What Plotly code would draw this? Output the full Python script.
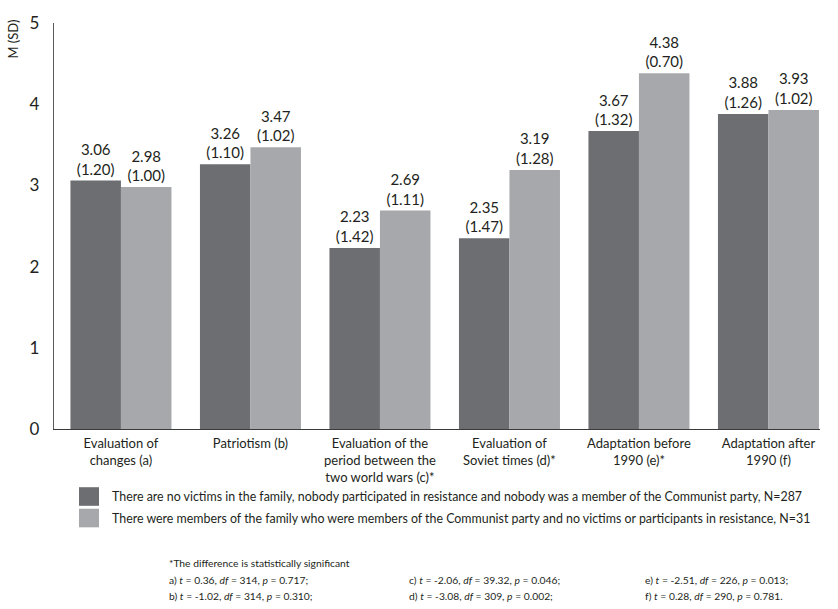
import plotly.graph_objects as go

categories = [
    "Evaluation of<br>changes (a)",
    "Patriotism (b)",
    "Evaluation of the<br>period between the<br>two world wars (c)*",
    "Evaluation of<br>Soviet times (d)*",
    "Adaptation before<br>1990 (e)*",
    "Adaptation after<br>1990 (f)",
]
no_victims_mean = [3.06, 3.26, 2.23, 2.35, 3.67, 3.88]
no_victims_sd = [1.20, 1.10, 1.42, 1.47, 1.32, 1.26]
party_mean = [2.98, 3.47, 2.69, 3.19, 4.38, 3.93]
party_sd = [1.00, 1.02, 1.11, 1.28, 0.70, 1.02]
y_ticks = [0, 1, 2, 3, 4, 5]

legend_labels = [
    "There are no victims in the family, nobody participated in resistance and nobody was a member of the Communist party, N=287",
    "There were members of the family who were members of the Communist party and no victims or participants in resistance, N=31",
]
footnote_title = "*The difference is statistically significant"
footnotes = [
    "a) <i>t</i> = 0.36, <i>df</i> = 314, <i>p</i> = 0.717;",
    "b) <i>t</i> = -1.02, <i>df</i> = 314, <i>p</i> = 0.310;",
    "c) <i>t</i> = -2.06, <i>df</i> = 39.32, <i>p</i> = 0.046;",
    "d) <i>t</i> = -3.08, <i>df</i> = 309, <i>p</i> = 0.002;",
    "e) <i>t</i> = -2.51, <i>df</i> = 226, <i>p</i> = 0.013;",
    "f) <i>t</i> = 0.28, <i>df</i> = 290, <i>p</i> = 0.781.",
]

DARK = "#6d6e72"
LIGHT = "#a7a8ab"
TEXT = "#231f20"
FONT = "Lato, Liberation Sans, sans-serif"

W, H = 838, 609
L, R, T, B = 54, 18, 14, 180
PW, PH = W - L - R, H - T - B


def px_x(x):
    return (x - L) / PW


def px_y(y):
    return (H - B - y) / PH


def labels(means, sds):
    return [f"{m:.2f}<br>({s:.2f})" for m, s in zip(means, sds)]


fig = go.Figure()
for name, means, sds, color in [
    (legend_labels[0], no_victims_mean, no_victims_sd, DARK),
    (legend_labels[1], party_mean, party_sd, LIGHT),
]:
    fig.add_trace(go.Bar(
        x=categories, y=means, name=name,
        marker=dict(color=color, line=dict(width=0)),
        text=labels(means, sds), textposition="outside",
        textfont=dict(family=FONT, size=15, color=TEXT),
        cliponaxis=False, showlegend=False,
    ))

fig.update_layout(
    width=W, height=H,
    margin=dict(l=L, r=R, t=T, b=B),
    paper_bgcolor="white", plot_bgcolor="white",
    barmode="group", bargap=0.22, bargroupgap=0,
    font=dict(family=FONT, color=TEXT),
    xaxis=dict(
        range=[-0.517, 5.398],
        showline=True, linecolor="#3a3a3a", linewidth=1.3,
        ticks="", tickfont=dict(family=FONT, size=13, color=TEXT),
        showgrid=False, ticklabelstandoff=2,
    ),
    yaxis=dict(
        range=[0, 5], tickvals=y_ticks, showgrid=False, zeroline=False,
        showline=True, linecolor="#5a5a5a", linewidth=1.3,
        ticks="", ticklabelstandoff=10,
        tickfont=dict(family=FONT, size=17, color=TEXT),
    ),
)

annotations = [
    dict(text="M (SD)", textangle=-90, xref="paper", yref="paper",
         x=px_x(13), y=px_y(9), xanchor="center", yanchor="top",
         showarrow=False, font=dict(family=FONT, size=13, color=TEXT)),
]
shapes = []

# legend rows: colour square + description
for i, (lab, color) in enumerate(zip(legend_labels, [DARK, LIGHT])):
    yc = 498 + i * 22
    shapes.append(dict(type="rect", xref="paper", yref="paper",
                       x0=px_x(79), x1=px_x(99), y0=px_y(yc + 9.5), y1=px_y(yc - 9.5),
                       fillcolor=color, line=dict(width=0)))
    annotations.append(dict(text=lab, xref="paper", yref="paper",
                            x=px_x(110), y=px_y(yc), xanchor="left", yanchor="middle",
                            showarrow=False, font=dict(family=FONT, size=12.4, color=TEXT)))

# significance notes
annotations.append(dict(text=footnote_title, xref="paper", yref="paper",
                        x=px_x(167), y=px_y(566), xanchor="left", yanchor="middle",
                        showarrow=False, font=dict(family=FONT, size=10.3, color=TEXT)))
cols = [167, 407, 643]
for k, note in enumerate(footnotes):
    col, row = divmod(k, 2)
    annotations.append(dict(text=note, xref="paper", yref="paper",
                            x=px_x(cols[col]), y=px_y(583 + row * 17),
                            xanchor="left", yanchor="middle", showarrow=False,
                            font=dict(family=FONT, size=10.3, color=TEXT)))

fig.update_layout(annotations=annotations, shapes=shapes)
fig.write_html("out.html")
